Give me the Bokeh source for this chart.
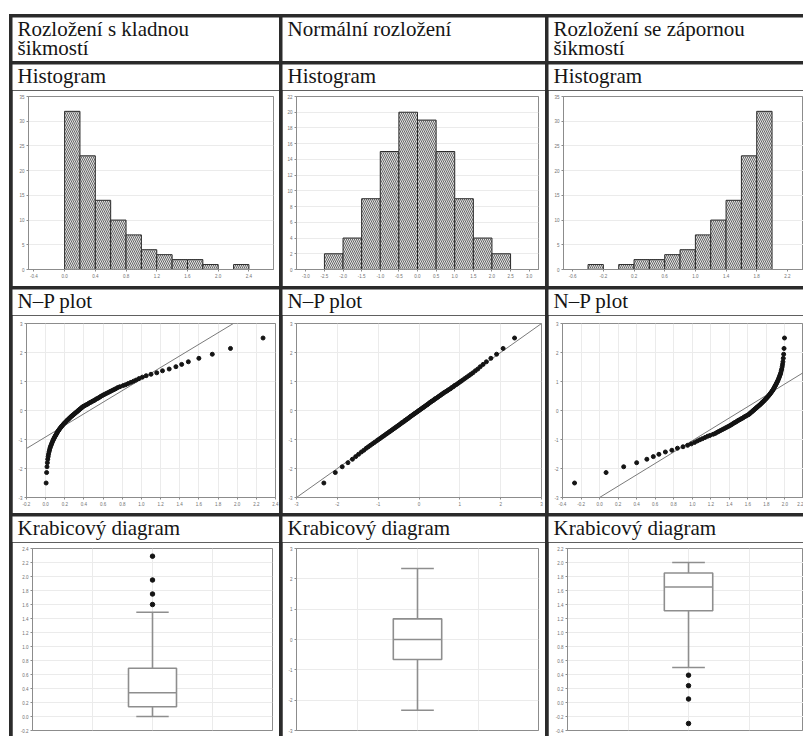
from bokeh.plotting import figure
from bokeh.layouts import row, column
from bokeh.models import Range1d, FixedTicker, PrintfTickFormatter, Label
from bokeh.embed import file_html
from bokeh.resources import INLINE

# ---------------- texts ----------------
column_heads = [["Rozložení s kladnou", "šikmostí"],
                ["Normální rozložení"],
                ["Rozložení se zápornou", "šikmostí"]]
row_titles = ["Histogram", "N–P plot", "Krabicový diagram"]

# ---------------- histograms ----------------
hist1_left = [0.0, 0.2, 0.4, 0.6, 0.8, 1.0, 1.2, 1.4, 1.6, 1.8, 2.2]
hist1_count = [32, 23, 14, 10, 7, 4, 3, 2, 2, 1, 1]
hist1_bin = 0.2
hist1_xticks = [-0.4, 0.0, 0.4, 0.8, 1.2, 1.6, 2.0, 2.4]
hist1_yticks = [0, 5, 10, 15, 20, 25, 30, 35]

hist2_left = [-2.5, -2.0, -1.5, -1.0, -0.5, 0.0, 0.5, 1.0, 1.5, 2.0]
hist2_count = [2, 4, 9, 15, 20, 19, 15, 9, 4, 2]
hist2_bin = 0.5
hist2_xticks = [-3.0, -2.5, -2.0, -1.5, -1.0, -0.5, 0.0, 0.5, 1.0, 1.5, 2.0, 2.5, 3.0]
hist2_yticks = [0, 2, 4, 6, 8, 10, 12, 14, 16, 18, 20, 22]

hist3_left = [-0.4, 0.0, 0.2, 0.4, 0.6, 0.8, 1.0, 1.2, 1.4, 1.6, 1.8]
hist3_count = [1, 1, 2, 2, 3, 4, 7, 10, 14, 23, 32]
hist3_bin = 0.2
hist3_xticks = [-0.6, -0.2, 0.2, 0.6, 1.0, 1.4, 1.8, 2.2]
hist3_yticks = [0, 5, 10, 15, 20, 25, 30, 35]

# ---------------- normal probability plots ----------------
np_score = [-2.50, -2.14, -1.94, -1.80, -1.68, -1.59, -1.51, -1.43, -1.37, -1.30,
            -1.25, -1.20, -1.15, -1.10, -1.05, -1.01, -0.97, -0.93, -0.89, -0.86,
            -0.82, -0.79, -0.75, -0.72, -0.69, -0.66, -0.63, -0.60, -0.57, -0.54,
            -0.51, -0.48, -0.45, -0.42, -0.40, -0.37, -0.34, -0.32, -0.29, -0.27,
            -0.24, -0.21, -0.19, -0.16, -0.14, -0.11, -0.09, -0.06, -0.04, -0.01,
            0.01, 0.04, 0.06, 0.09, 0.11, 0.14, 0.16, 0.19, 0.21, 0.24,
            0.27, 0.29, 0.32, 0.34, 0.37, 0.40, 0.42, 0.45, 0.48, 0.51,
            0.54, 0.57, 0.60, 0.63, 0.66, 0.69, 0.72, 0.75, 0.79, 0.82,
            0.86, 0.89, 0.93, 0.97, 1.01, 1.05, 1.10, 1.15, 1.20, 1.25,
            1.30, 1.37, 1.43, 1.51, 1.59, 1.68, 1.80, 1.94, 2.14, 2.50]

np1_value = [0.005, 0.010, 0.014, 0.018, 0.022, 0.026, 0.030, 0.035, 0.040, 0.045,
             0.050, 0.056, 0.062, 0.068, 0.074, 0.080, 0.086, 0.092, 0.098, 0.104,
             0.110, 0.116, 0.122, 0.128, 0.134, 0.140, 0.147, 0.154, 0.161, 0.168,
             0.176, 0.184, 0.192, 0.200, 0.208, 0.216, 0.224, 0.232, 0.240, 0.248,
             0.256, 0.265, 0.274, 0.283, 0.292, 0.301, 0.310, 0.319, 0.328, 0.337,
             0.346, 0.355, 0.364, 0.373, 0.382, 0.391, 0.405, 0.419, 0.433, 0.447,
             0.461, 0.475, 0.489, 0.503, 0.517, 0.531, 0.545, 0.559, 0.573, 0.588,
             0.605, 0.623, 0.641, 0.659, 0.677, 0.695, 0.713, 0.731, 0.752, 0.775,
             0.810, 0.835, 0.862, 0.890, 0.918, 0.945, 0.975, 1.01, 1.05, 1.10,
             1.16, 1.22, 1.29, 1.36, 1.42, 1.49, 1.60, 1.74, 1.93, 2.27]
np1_line_x = [-0.2, 1.96]
np1_line_y = [-1.31, 3.0]
np1_xticks = [-0.2, 0.0, 0.2, 0.4, 0.6, 0.8, 1.0, 1.2, 1.4, 1.6, 1.8, 2.0, 2.2, 2.4]

np2_value = [-2.33, -2.05, -1.88, -1.74, -1.63, -1.55, -1.48, -1.41, -1.35, -1.29,
             -1.24, -1.19, -1.14, -1.09, -1.04, -1.00, -0.96, -0.92, -0.88, -0.85,
             -0.81, -0.78, -0.74, -0.71, -0.68, -0.65, -0.62, -0.59, -0.56, -0.53,
             -0.50, -0.47, -0.44, -0.42, -0.39, -0.36, -0.34, -0.31, -0.29, -0.26,
             -0.24, -0.21, -0.19, -0.16, -0.14, -0.11, -0.09, -0.06, -0.04, -0.01,
             0.01, 0.04, 0.06, 0.09, 0.11, 0.14, 0.16, 0.19, 0.21, 0.24,
             0.26, 0.29, 0.31, 0.34, 0.37, 0.39, 0.42, 0.45, 0.48, 0.51,
             0.54, 0.57, 0.60, 0.63, 0.67, 0.70, 0.73, 0.77, 0.80, 0.84,
             0.87, 0.91, 0.95, 0.99, 1.03, 1.07, 1.12, 1.17, 1.22, 1.27,
             1.32, 1.38, 1.44, 1.50, 1.57, 1.65, 1.76, 1.90, 2.06, 2.34]
np2_line_x = [-3.0, 3.0]
np2_line_y = [-3.0, 3.0]
np2_xticks = [-3, -2, -1, 0, 1, 2, 3]

np3_value = [-0.27, 0.07, 0.26, 0.40, 0.51, 0.58, 0.64, 0.71, 0.78, 0.84,
             0.90, 0.95, 0.99, 1.025, 1.055, 1.082, 1.110, 1.138, 1.165, 1.190,
             1.225, 1.248, 1.269, 1.287, 1.305, 1.323, 1.341, 1.359, 1.377, 1.395,
             1.412, 1.427, 1.441, 1.455, 1.469, 1.483, 1.497, 1.511, 1.525, 1.539,
             1.553, 1.567, 1.581, 1.595, 1.609, 1.618, 1.627, 1.636, 1.645, 1.654,
             1.663, 1.672, 1.681, 1.690, 1.699, 1.708, 1.717, 1.726, 1.735, 1.744,
             1.752, 1.760, 1.768, 1.776, 1.784, 1.792, 1.800, 1.808, 1.816, 1.824,
             1.832, 1.839, 1.846, 1.853, 1.860, 1.866, 1.872, 1.878, 1.884, 1.890,
             1.896, 1.902, 1.908, 1.914, 1.920, 1.926, 1.932, 1.938, 1.944, 1.950,
             1.955, 1.960, 1.965, 1.970, 1.974, 1.978, 1.982, 1.986, 1.990, 1.995]
np3_line_x = [0.0, 2.2]
np3_line_y = [-3.0, 1.31]
np3_xticks = [-0.4, -0.2, 0.0, 0.2, 0.4, 0.6, 0.8, 1.0, 1.2, 1.4, 1.6, 1.8, 2.0, 2.2]

np_yticks = [-3, -2, -1, 0, 1, 2, 3]

# ---------------- box plots (whisker low, Q1, median, Q3, whisker high) ----------------
box1_stats = [0.0, 0.14, 0.34, 0.69, 1.49]
box1_outliers = [1.60, 1.75, 1.95, 2.29]
box1_yticks = [-0.2, 0.0, 0.2, 0.4, 0.6, 0.8, 1.0, 1.2, 1.4, 1.6, 1.8, 2.0, 2.2, 2.4]

box2_stats = [-2.33, -0.66, 0.0, 0.68, 2.34]
box2_outliers = []
box2_yticks = [-3, -2, -1, 0, 1, 2, 3]

box3_stats = [0.50, 1.31, 1.65, 1.85, 2.0]
box3_outliers = [0.39, 0.24, 0.05, -0.30]
box3_yticks = [-0.4, -0.2, 0.0, 0.2, 0.4, 0.6, 0.8, 1.0, 1.2, 1.4, 1.6, 1.8, 2.0, 2.2]

# ---------------- look ----------------
SERIF = "Liberation Serif"
SANS = "Liberation Sans"
RULE = "#2b2b2b"
INK = "#151515"
FRAME = "#8c8c8c"
GRID = "#ebebeb"
TICK = "#707070"
RULE_W = 3
TEXT_SHIFT = 8.5     # distance between a label's anchor and its drawn baseline

COL_W = [267, 263, 255]
ROW_H = [44, 222, 224, 220]
CAP_H = 26           # caption strip on top of each chart cell

# frame insets of the chart below the caption strip: (left, right, top, bottom)
HIST_IN = [(16, 6, 6, 17), (14, 7, 6, 16), (15, 0, 6, 16)]
NP_IN = [(14, 4, 8, 16), (14, 4, 8, 16), (14, 0, 8, 16)]
BOX_IN = [(20, 7, 6, 6), (14, 7, 6, 6), (19, 0, 6, 6)]
CAP_BASE = 19.5      # caption baseline below the top of the cell


def text_strip(w, h, lines, first_base, step):
    p = figure(width=w, height=h, x_range=Range1d(0, w), y_range=Range1d(0, h),
               x_axis_type=None, y_axis_type=None, output_backend="svg",
               toolbar_location=None, title=None, min_border=0)
    p.outline_line_color = None
    p.background_fill_color = "white"
    p.border_fill_color = "white"
    for i, txt in enumerate(lines):
        base = first_base + step * i
        p.add_layout(Label(x=5, y=h - (base - TEXT_SHIFT), text=txt, text_font=SERIF,
                           text_font_size="21px", text_color=INK,
                           text_baseline="alphabetic"))
    return p


def chart(w, h, inset, xr, yr):
    l, r, t, b = inset
    p = figure(width=w, height=h, x_range=Range1d(*xr), y_range=Range1d(*yr),
               output_backend="svg", toolbar_location=None, title=None,
               min_border_left=l, min_border_right=r,
               min_border_top=t, min_border_bottom=b)
    p.outline_line_color = FRAME
    p.outline_line_width = 1
    p.background_fill_color = "white"
    p.border_fill_color = "white"
    p.grid.grid_line_color = GRID
    p.grid.grid_line_width = 1
    for ax in p.axis:
        ax.axis_line_color = FRAME
        ax.major_tick_line_color = FRAME
        ax.major_tick_in = 0
        ax.major_tick_out = 2
        ax.minor_tick_line_color = None
        ax.major_label_text_font = SANS
        ax.major_label_text_font_size = "4.5px"
        ax.major_label_text_color = TICK
        ax.major_label_standoff = 2
    return p


def set_ticks(p, xticks, yticks, xfmt, yfmt):
    p.xaxis.ticker = FixedTicker(ticks=xticks)
    p.xaxis.formatter = PrintfTickFormatter(format=xfmt)
    p.yaxis.ticker = FixedTicker(ticks=yticks)
    p.yaxis.formatter = PrintfTickFormatter(format=yfmt)


def hist_panel(k, xr, yr, left, count, width, xticks, yticks, xfmt):
    p = chart(COL_W[k], ROW_H[1] - CAP_H, HIST_IN[k], xr, yr)
    set_ticks(p, xticks, yticks, xfmt, "%d")
    p.xgrid.visible = False
    p.quad(left=left, right=[v + width for v in left], bottom=0, top=count,
           fill_color="#e2e2e2", line_color="#2a2a2a", line_width=1,
           hatch_pattern="\\", hatch_color="#474747", hatch_scale=4, hatch_weight=0.8)
    return p


def np_panel(k, xr, values, line_x, line_y, xticks, xfmt):
    p = chart(COL_W[k], ROW_H[2] - CAP_H, NP_IN[k], xr, (-3, 3))
    set_ticks(p, xticks, np_yticks, xfmt, "%d")
    p.line(line_x, line_y, line_color="#7a7a7a", line_width=1)
    p.scatter(values, np_score, size=4, fill_color="#141414", line_color="#141414")
    return p


def box_panel(k, xr, yr, stats, outliers, yticks, yfmt):
    p = chart(COL_W[k], ROW_H[3] - CAP_H, BOX_IN[k], xr, yr)
    set_ticks(p, [1, 2, 3], yticks, "%d", yfmt)
    p.xaxis.visible = False
    lo, q1, med, q3, hi = stats
    c = 2
    col = "#8e8e8e"
    p.segment(x0=[c, c], y0=[q3, q1], x1=[c, c], y1=[hi, lo], line_color=col, line_width=1.6)
    p.segment(x0=[c - 0.27, c - 0.27], y0=[hi, lo], x1=[c + 0.27, c + 0.27], y1=[hi, lo],
              line_color=col, line_width=1.6)
    p.quad(left=[c - 0.4], right=[c + 0.4], bottom=[q1], top=[q3],
           fill_color="white", line_color=col, line_width=1.6)
    p.segment(x0=[c - 0.4], y0=[med], x1=[c + 0.4], y1=[med], line_color=col, line_width=1.6)
    if outliers:
        p.scatter([c] * len(outliers), outliers, size=4.5,
                  fill_color="#141414", line_color="#141414")
    return p


def captions(r):
    return [text_strip(COL_W[k], CAP_H, [row_titles[r]], CAP_BASE, 0) for k in range(3)]


heads = [text_strip(COL_W[k], ROW_H[0], column_heads[k], 20, 19) for k in range(3)]

hists = [
    hist_panel(0, (-0.47, 2.72), (0, 35), hist1_left, hist1_count, hist1_bin,
               hist1_xticks, hist1_yticks, "%.1f"),
    hist_panel(1, (-3.25, 3.25), (0, 22), hist2_left, hist2_count, hist2_bin,
               hist2_xticks, hist2_yticks, "%.1f"),
    hist_panel(2, (-0.72, 2.41), (0, 35), hist3_left, hist3_count, hist3_bin,
               hist3_xticks, hist3_yticks, "%.1f"),
]

nps = [
    np_panel(0, (-0.2, 2.4), np1_value, np1_line_x, np1_line_y, np1_xticks, "%.1f"),
    np_panel(1, (-3, 3), np2_value, np2_line_x, np2_line_y, np2_xticks, "%d"),
    np_panel(2, (-0.4, 2.2), np3_value, np3_line_x, np3_line_y, np3_xticks, "%.1f"),
]

boxes = [
    box_panel(0, (0, 4), (-0.2, 2.4), box1_stats, box1_outliers, box1_yticks, "%.1f"),
    box_panel(1, (0, 4), (-3, 3), box2_stats, box2_outliers, box2_yticks, "%d"),
    box_panel(2, (0, 3.9), (-0.4, 2.2), box3_stats, box3_outliers, box3_yticks, "%.1f"),
]


def table_block(strips, top):
    # one table row: strips of cells stacked with no rule between them,
    # vertical rules come from the dark background showing through the gaps
    rows = [row(*s, spacing=RULE_W) for s in strips]
    return column(*rows, spacing=0, margin=(top, 0, 0, RULE_W),
                  styles={"background-color": RULE})


table = column(table_block([heads], RULE_W),
               table_block([captions(0), hists], 0),
               table_block([captions(1), nps], 0),
               table_block([captions(2), boxes], 0),
               spacing=RULE_W, margin=(14, 0, 0, 9),
               styles={"background-color": RULE})

open("out.html", "w").write(file_html(table, INLINE))
